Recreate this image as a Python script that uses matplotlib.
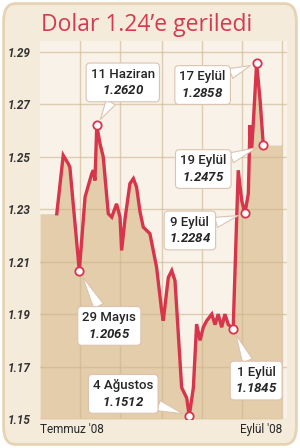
import matplotlib
matplotlib.use("Agg")
import matplotlib.pyplot as plt
from matplotlib.patches import FancyBboxPatch

# USD/TRY daily close, x = trading-day index from late May to 19 Sep 2008
days = [7.3, 10.1, 12.3, 13.0, 17.1, 19.6, 22.5, 23.2, 23.9, 24.7, 26.1, 27.5,
        29.7, 31.2, 33.3, 34.8, 35.5, 37.0, 39.1, 40.6, 42.0, 43.5, 44.9, 47.8,
        50.7, 52.9, 53.6, 55.8, 57.3, 58.7, 61.6, 63.8, 64.9, 66.7, 68.1, 69.6,
        71.0, 72.5, 74.7, 76.1, 77.5, 79.0, 80.4, 81.9, 84.0, 86.2, 87.7, 89.1,
        90.6, 91.3, 92.0, 92.7, 94.2, 95.7, 97.1]
rate = [1.2283, 1.2506, 1.2474, 1.2460, 1.2065, 1.2347, 1.2436, 1.2449, 1.2410,
        1.2620, 1.2550, 1.2500, 1.2283, 1.2270, 1.2321, 1.2270, 1.2143, 1.2265,
        1.2398, 1.2417, 1.2385, 1.2290, 1.2232, 1.2207, 1.2079, 1.1913, 1.1875,
        1.2040, 1.2066, 1.2028, 1.1620, 1.1580, 1.1512, 1.1620, 1.1862, 1.1800,
        1.1850, 1.1875, 1.1900, 1.1860, 1.1900, 1.1850, 1.1900, 1.1860, 1.1845,
        1.2449, 1.2334, 1.2284, 1.2360, 1.2621, 1.2525, 1.2620, 1.2858, 1.2717,
        1.2545]

yticks = [1.15, 1.17, 1.19, 1.21, 1.23, 1.25, 1.27, 1.29]
ytick_labels = ["1.15", "1.17", "1.19", "1.21", "1.23", "1.25", "1.27", "1.29"]

# highlighted points: label, printed value, index into the series
hl_labels = ["29 Mayıs", "11 Haziran", "4 Ağustos", "1 Eylül", "9 Eylül", "17 Eylül", "19 Eylül"]
hl_values = ["1.2065", "1.2620", "1.1512", "1.1845", "1.2284", "1.2858", "1.2475"]
hl_idx = [4, 9, 32, 44, 47, 52, 54]
hl_offset = [(30, -55), (26, 43), (-66, 22), (23, -52), (-55, -17), (-54, -22), (-60, -24)]

RED = "#d7354c"
TAN = "#e3cdaa"
PLOT_BG = "#f8f2e8"
OUTER_BG = "#f4ebdb"
BOX_EC = "#dcc3b0"
TXT = "#262626"

plt.rcParams["font.family"] = ["Roboto", "DejaVu Sans"]
plt.rcParams["mathtext.fontset"] = "custom"
plt.rcParams["mathtext.bf"] = "Roboto:italic:bold"
plt.rcParams["mathtext.rm"] = "Roboto"

fig = plt.figure(figsize=(3.0, 4.48), dpi=100)
fig.patch.set_facecolor("white")
fig.patches.append(FancyBboxPatch((0.012, 0.008), 0.976, 0.984,
                                  boxstyle="round,pad=0,rounding_size=0.04",
                                  transform=fig.transFigure, fc=OUTER_BG,
                                  ec="#e5d3b4", lw=2, zorder=-1))

ax = fig.add_axes([0.1333, 0.0647, 0.8233, 0.8438])
ax.set_zorder(1)
ax.set_facecolor(PLOT_BG)
ax.set_xlim(0, 107.4)
ax.set_ylim(1.15, 1.2942)

fill_x = [0] + days + [105.1]
fill_y = [rate[0]] + rate + [rate[-1]]
ax.fill_between(fill_x, 1.15, fill_y, color=TAN, lw=0, zorder=1)

ax.set_xticks([17.4, 34.8, 53.0, 70.4, 87.8, 105.2])
ax.set_yticks(yticks)
ax.set_yticklabels(ytick_labels, fontsize=8.5, style="italic",
                   fontweight="bold", color="#333333")
ax.tick_params(axis="x", length=0, labelbottom=False)
ax.tick_params(axis="y", length=0, pad=7)
ax.grid(True, color="#cdb58f", alpha=0.6, lw=1)
ax.set_axisbelow(False)
for g in ax.get_xgridlines() + ax.get_ygridlines():
    g.set_zorder(2)
for s in ax.spines.values():
    s.set_visible(False)

ax.plot(days, rate, color=RED, lw=2.4, solid_joinstyle="miter", zorder=3)
ax.plot([days[i] for i in hl_idx], [rate[i] for i in hl_idx], "o", ms=6,
        mfc="white", mec=RED, mew=1.3, zorder=8)

for lab, val, i, off in zip(hl_labels, hl_values, hl_idx, hl_offset):
    ax.annotate(lab + "\n$\\mathbf{" + val + "}$", xy=(days[i], rate[i]),
                xytext=off, textcoords="offset pixels",
                ha="center", va="center", ma="center", fontsize=9.5, color=TXT,
                fontweight="medium", linespacing=1.35, zorder=6,
                bbox=dict(boxstyle="round,pad=0.35,rounding_size=0.3",
                          fc="white", ec=BOX_EC, lw=0.8),
                arrowprops=dict(arrowstyle="wedge,tail_width=0.8", fc="white",
                                ec=BOX_EC, lw=0.8, shrinkA=0, shrinkB=5))

ax.text(0.0, -0.028, "Temmuz '08", transform=ax.transAxes, ha="left", va="center",
        fontsize=8.5, color=TXT)
ax.text(0.98, -0.028, "Eylül '08", transform=ax.transAxes, ha="right", va="center",
        fontsize=8.5, color=TXT)

fig.text(0.49, 0.945, "Dolar 1.24’e geriledi", ha="center", va="center",
         fontsize=16.5, family="Open Sans", fontweight="medium", color="#d43b50")

plt.savefig("out.png", dpi=100)
plt.close()
